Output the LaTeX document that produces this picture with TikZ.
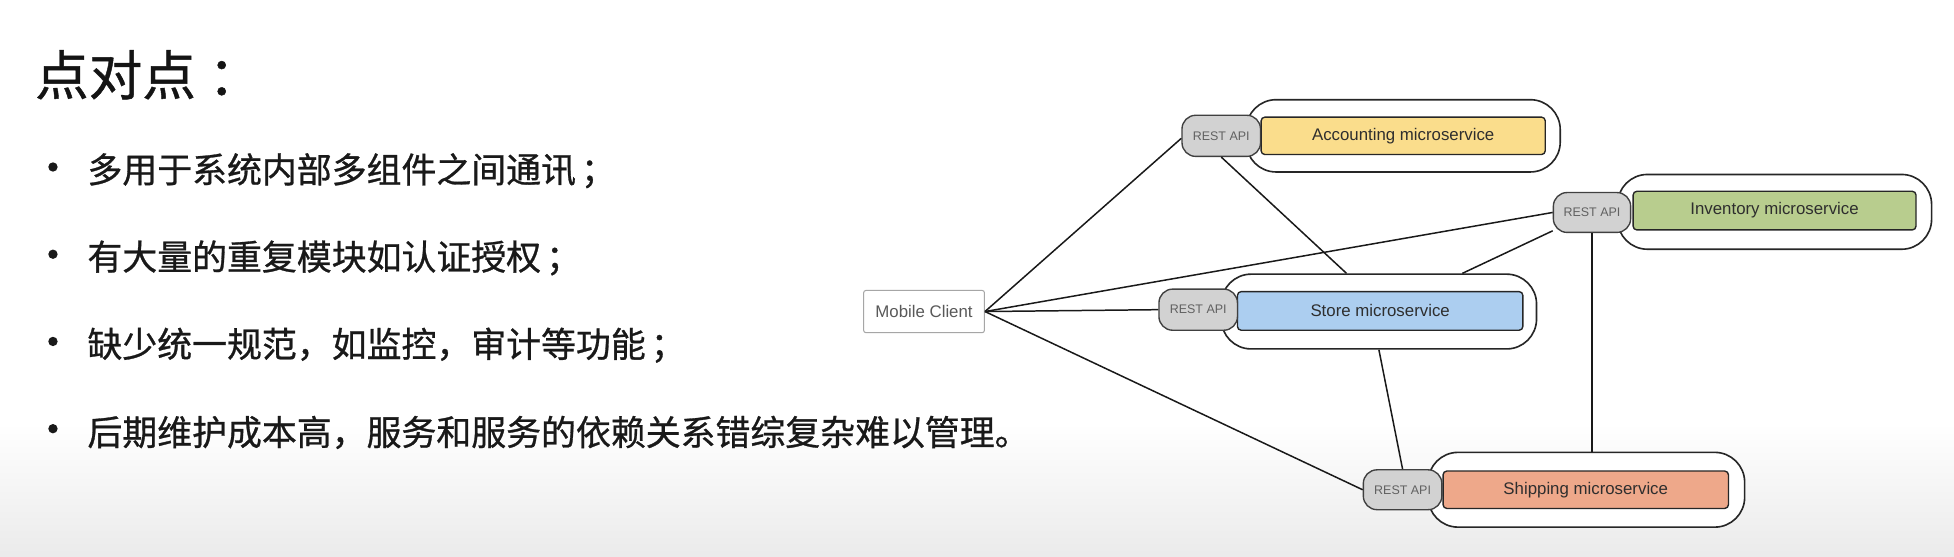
\documentclass[tikz,border=0pt]{standalone}
\usepackage{fontspec}
\setmainfont{Liberation Sans}
\newfontfamily\cjk{Noto Sans CJK SC}[FakeBold=0.8]
\usetikzlibrary{calc}
\definecolor{accY}{RGB}{250,221,140}
\definecolor{invG}{RGB}{184,205,142}
\definecolor{stoB}{RGB}{172,206,240}
\definecolor{shpO}{RGB}{238,168,138}
\begin{document}
\begin{tikzpicture}[x=1pt,y=-1pt,
  grp/.style={draw=black!85, line width=1.3pt, fill=white, rounded corners=24pt, inner sep=0pt, minimum height=60pt},
  svc/.style={draw=black!85, line width=1.1pt, rounded corners=3pt, inner sep=0pt, minimum height=31pt, font=\fontsize{13.5}{15}\selectfont, text=black!82},
  api/.style={draw=black!75, line width=1.1pt, fill=gray!35, rounded corners=11pt, inner sep=0pt, minimum width=63pt, minimum height=33pt, font=\fontsize{10}{11}\selectfont, text=black!62},
  client/.style={draw=gray!70, line width=0.8pt, fill=white, rounded corners=2pt, inner sep=0pt, minimum width=97pt, minimum height=34pt, font=\fontsize{13.5}{15}\selectfont, text=black!65},
  link/.style={line width=1.2pt, draw=black!90},
  bulletline/.style={anchor=west, inner sep=0pt, font=\cjk\fontsize{28}{34}\selectfont, text=black!90},
  dotmark/.style={circle, fill=black!90, inner sep=0pt, minimum size=7.5pt}
]
\useasboundingbox (0,0) rectangle (1568,446.2);
\fill[white] (0,0) rectangle (1568,446.2);
\shade[top color=white, bottom color=gray!16] (0,340) rectangle (1568,446.2);

% title and bullets
\node[anchor=west, inner sep=0pt, font=\cjk\fontsize{43}{50}\selectfont, text=black!92] (title) at (28,60) {点对点\kern10pt：};
\node[dotmark] (b1) at (42.5,134) {};
\node[bulletline] (t1) at (70,137) {多用于系统内部多组件之间通讯\kern4pt；};
\node[dotmark] (b2) at (42.5,204) {};
\node[bulletline] (t2) at (70,207) {有大量的重复模块如认证授权\kern4pt；};
\node[dotmark] (b3) at (42.5,274) {};
\node[bulletline] (t3) at (70,277) {缺少统一规范，如监控，审计等功能\kern4pt；};
\node[dotmark] (b4) at (42.5,344) {};
\node[bulletline] (t4) at (70,347) {后期维护成本高，服务和服务的依赖关系错综复杂难以管理。};

% client
\node[client] (mc) at (741.5,250) {Mobile Client};

% Accounting
\node[grp, minimum width=252pt, minimum height=58pt] (accout) at (1126,109) {};
\node[svc, fill=accY, minimum width=228pt, minimum height=30pt] (acc) at (1126,109) {Accounting microservice};
\node[api] (accapi) at (980,109) {REST API};

% Inventory
\node[grp, minimum width=252pt] (invout) at (1424,170) {};
\node[svc, fill=invG, minimum width=227pt] (inv) at (1424,169) {Inventory microservice};
\node[api, minimum width=62pt, minimum height=32pt] (invapi) at (1277.5,170.5) {REST API};

% Store
\node[grp, minimum width=253pt] (stoout) at (1106.5,250) {};
\node[svc, fill=stoB, minimum width=229pt] (sto) at (1107.5,249.5) {Store microservice};
\node[api] (stoapi) at (961.5,248.5) {REST API};

% Shipping
\node[grp, minimum width=254pt] (shpout) at (1273,393) {};
\node[svc, fill=shpO, minimum width=229pt, minimum height=30pt] (shp) at (1272.5,393) {Shipping microservice};
\node[api, minimum height=32pt] (shpapi) at (1125.5,393) {REST API};

% connectors
\draw[link] (mc.east) -- ([yshift=-2pt]accapi.west);
\draw[link] (mc.east) -- (invapi.west);
\draw[link] (mc.east) -- (stoapi.west);
\draw[link] (mc.east) -- (shpapi.west);
\draw[link] (accapi.south) -- ([xshift=-26pt]stoout.north);
\draw[link] (invapi.205) -- ([xshift=67pt]stoout.north);
\draw[link] (invapi.south) -- (invapi.south |- shpout.north);
\draw[link] (stoout.south) -- (shpapi.north);
\end{tikzpicture}
\end{document}
